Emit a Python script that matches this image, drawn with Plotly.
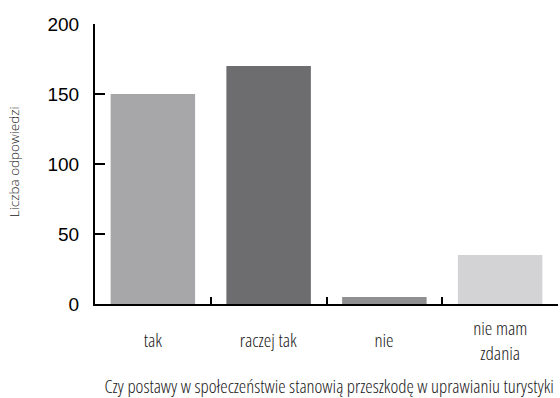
import plotly.graph_objects as go

categories = ["tak", "raczej tak", "nie", "nie mam<br>zdania"]
values = [150, 170, 5, 35]
bar_colors = ["#a7a7aa", "#6d6d6f", "#8f8f91", "#d3d3d5"]
y_ticks = [0, 50, 100, 150, 200]
y_title = "Liczba odpowiedzi"
x_title = "Czy postawy w społeczeństwie stanowią przeszkodę w uprawianiu turystyki"

fig = go.Figure(go.Bar(
    x=list(range(len(categories))),
    y=values,
    marker=dict(color=bar_colors, line=dict(width=0)),
    width=0.73,
))

annotations = []
for i, c in enumerate(categories):
    annotations.append(dict(
        x=i, xref="x", y=-0.13, yref="paper", text=c, showarrow=False,
        xanchor="center", yanchor="middle",
        font=dict(family="Open Sans", size=19, weight=350, color="#1a1718"),
    ))
annotations.append(dict(
    x=0.505, xref="paper", y=-0.29, yref="paper", text=x_title, showarrow=False,
    xanchor="center", yanchor="middle",
    font=dict(family="Open Sans", size=18.7, weight=350, color="#1a1718"),
))
annotations.append(dict(
    x=-0.175, xref="paper", y=0.51, yref="paper", text=y_title, showarrow=False,
    textangle=-90, xanchor="center", yanchor="middle",
    font=dict(family="Open Sans", size=13.5, weight=350, color="#1a1718"),
))

fig.update_layout(
    width=560, height=398,
    margin=dict(l=95, r=2, t=24, b=94),
    paper_bgcolor="white", plot_bgcolor="white",
    showlegend=False,
    annotations=annotations,
    xaxis=dict(
        range=[-0.5, 3.5], tickmode="array", tickvals=[0.5, 1.5, 2.5, 3.5],
        showticklabels=False, ticks="inside", ticklen=7, tickwidth=2, tickcolor="black",
        showline=True, linecolor="black", linewidth=2, showgrid=False, zeroline=False,
    ),
    yaxis=dict(
        range=[0, 200], tickmode="array", tickvals=y_ticks,
        ticks="inside", ticklen=10, tickwidth=2, tickcolor="black",
        showline=True, linecolor="black", linewidth=2, showgrid=False, zeroline=False,
        tickfont=dict(family="Liberation Sans, Arial, sans-serif", size=19, color="black"),
        ticklabelstandoff=10,
    ),
)

post = """
document.body.style.margin = '0';
var t = document.querySelectorAll('.annotation-text');
t.forEach(function(e, i){
  e.style.fontStretch = (i === t.length - 1) ? 'normal' : 'condensed';
});
"""

fig.write_html("out.html", post_script=post, config={"displayModeBar": False})
